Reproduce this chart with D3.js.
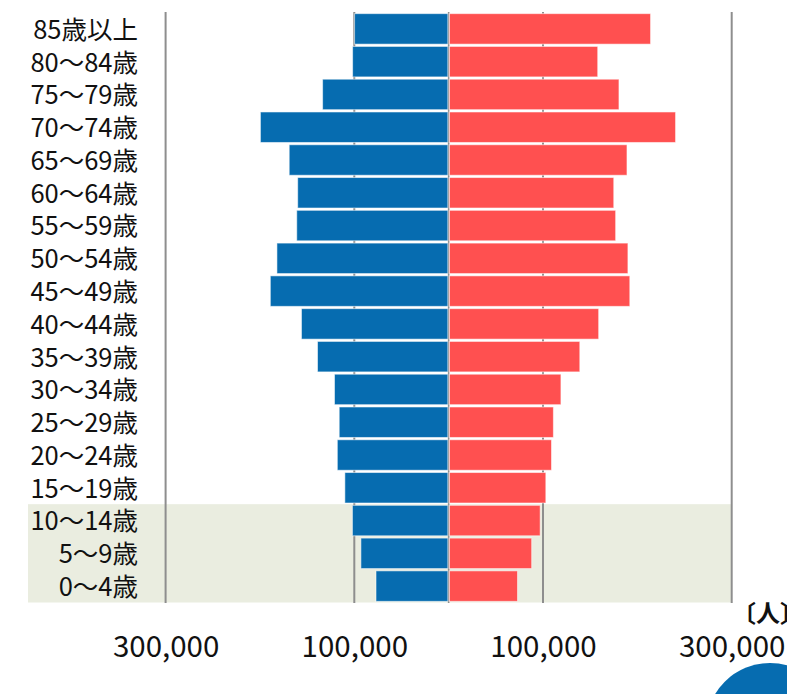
<!DOCTYPE html>
<html>
<head>
<meta charset="utf-8">
<script src="https://cdn.jsdelivr.net/npm/d3@7"></script>
<style>
  html, body { margin: 0; padding: 0; background: #fff; }
  svg { display: block; font-family: "Noto Sans CJK JP", "Noto Sans", sans-serif; }
</style>
</head>
<body>
<svg id="chart" width="787" height="694"></svg>
<script>
// Age groups, oldest first (top of the pyramid)
const ageGroups = [
  "85歳以上", "80〜84歳", "75〜79歳", "70〜74歳", "65〜69歳", "60〜64歳",
  "55〜59歳", "50〜54歳", "45〜49歳", "40〜44歳", "35〜39歳", "30〜34歳",
  "25〜29歳", "20〜24歳", "15〜19歳", "10〜14歳", "5〜9歳", "0〜4歳"
];
// Population (persons) per age group
const male = [
  99700, 101800, 133600, 199500, 169000, 160000,
  161000, 182000, 189000, 156000, 139000, 121000,
  116000, 118000, 110000, 102000, 93000, 77000
];
const female = [
  214000, 158000, 180500, 240500, 189000, 175000,
  177000, 190000, 192000, 159000, 139000, 119000,
  111000, 109000, 103000, 97000, 88000, 73000
];
// Child-age groups shaded behind the bars
const childGroups = ["10〜14歳", "5〜9歳", "0〜4歳"];
const tickValues = [-300000, -100000, 100000, 300000];
const unitLabel = "〔人〕";

const svg = d3.select("#chart");
const x = d3.scaleLinear().domain([-300000, 300000]).range([165.6, 731.7]);
const y = d3.scaleBand().domain(ageGroups).range([12.5, 602.5]).paddingInner(0.07).paddingOuter(0.035);
const x0 = x(0);
const step = y.step();

// shaded child-age band
const bandTop = y(childGroups[0]) - (step - y.bandwidth()) / 2;
const bandBottom = y(childGroups[childGroups.length - 1]) + y.bandwidth() + (step - y.bandwidth()) / 2;
svg.append("rect")
  .attr("x", 28).attr("y", bandTop)
  .attr("width", x(300000) - 28).attr("height", Math.min(bandBottom, 603) - bandTop)
  .attr("fill", "#eaede0");

// vertical grid lines
svg.append("g").selectAll("line")
  .data(tickValues.concat([0]))
  .join("line")
  .attr("x1", d => x(d)).attr("x2", d => x(d))
  .attr("y1", 12).attr("y2", 603)
  .attr("stroke", "#8e8e8e")
  .attr("stroke-width", d => d === 0 ? 1.6 : 2);

// male bars (left)
svg.append("g").selectAll("rect")
  .data(ageGroups.map((g, i) => ({ g, v: male[i] })))
  .join("rect")
  .attr("x", d => x(-d.v))
  .attr("y", d => y(d.g))
  .attr("width", d => x0 - 0.8 - x(-d.v))
  .attr("height", y.bandwidth())
  .attr("fill", "#066cb0")
  .attr("stroke", "rgba(255,255,255,0.55)")
  .attr("stroke-width", 1);

// female bars (right)
svg.append("g").selectAll("rect")
  .data(ageGroups.map((g, i) => ({ g, v: female[i] })))
  .join("rect")
  .attr("x", x0 + 0.8)
  .attr("y", d => y(d.g))
  .attr("width", d => x(d.v) - x0 - 0.8)
  .attr("height", y.bandwidth())
  .attr("fill", "#ff5050")
  .attr("stroke", "rgba(255,255,255,0.55)")
  .attr("stroke-width", 1);

// age labels
svg.append("g").selectAll("text")
  .data(ageGroups)
  .join("text")
  .attr("x", 138)
  .attr("y", d => y(d) + y.bandwidth() / 2 + 1)
  .attr("dy", "0.35em")
  .attr("text-anchor", "end")
  .attr("font-size", 25.5)
  .attr("fill", "#111")
  .text(d => d);

// population axis
const axis = d3.axisBottom(x)
  .tickValues(tickValues)
  .tickFormat(d => d3.format(",")(Math.abs(d)))
  .tickSize(0)
  .tickPadding(33);
const gAxis = svg.append("g").attr("transform", "translate(0,603)").call(axis);
gAxis.select(".domain").remove();
gAxis.selectAll("text")
  .attr("font-family", "\"Noto Sans CJK JP\", \"Noto Sans\", sans-serif")
  .attr("font-size", 29.5)
  .attr("fill", "#111");

// unit label
svg.append("text")
  .attr("x", 732).attr("y", 622)
  .attr("font-size", 24).attr("font-weight", "bold")
  .attr("fill", "#111")
  .text(unitLabel);

// corner badge
svg.append("circle")
  .attr("cx", 770).attr("cy", 727).attr("r", 64)
  .attr("fill", "#066cb0");
</script>
</body>
</html>
